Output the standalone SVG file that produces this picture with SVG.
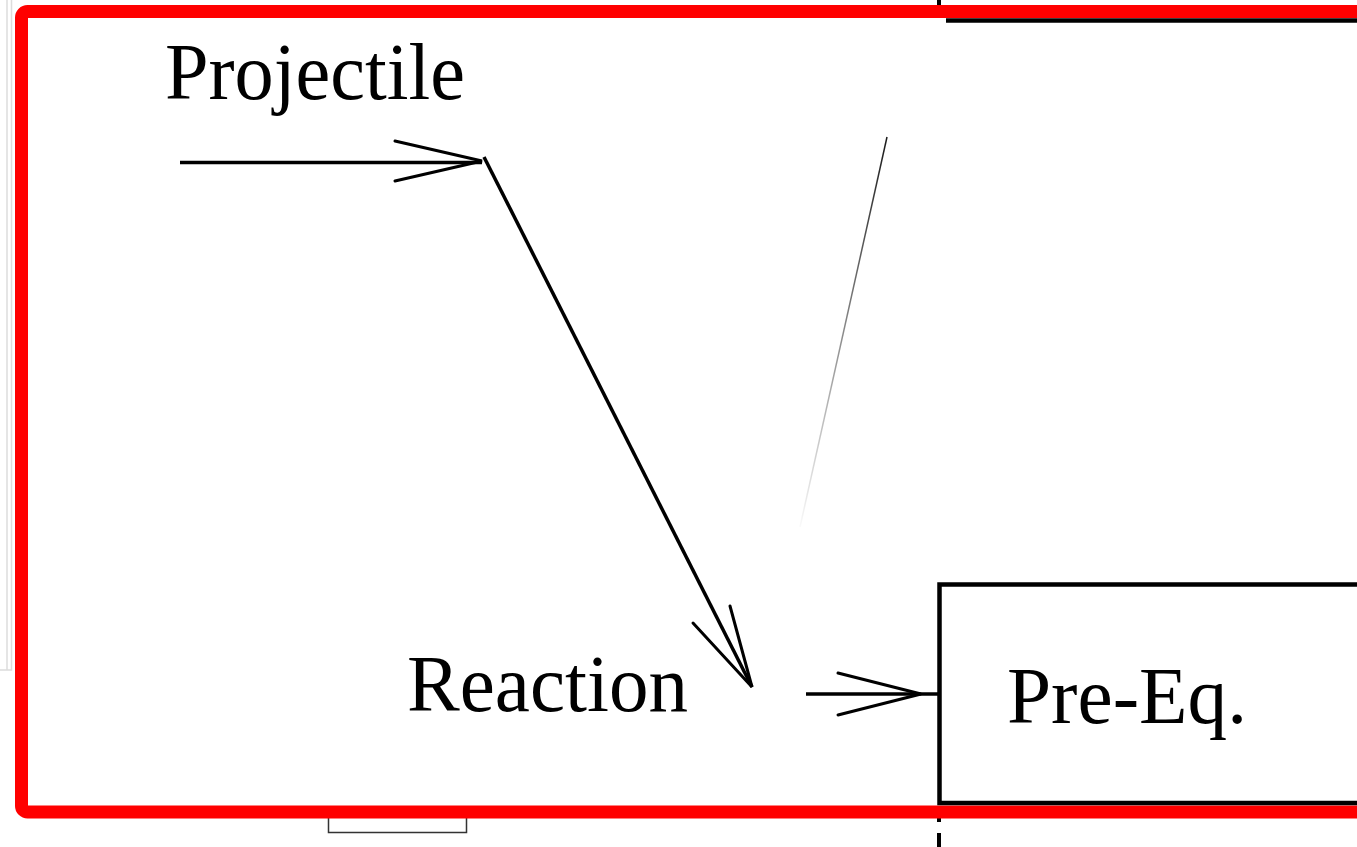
<svg xmlns="http://www.w3.org/2000/svg" width="1357" height="847" viewBox="0 0 1357 847">
  <defs>
    <style>
      .lbl { font-family: "Liberation Serif", "Times New Roman", serif; font-size: 80px; fill: #000; }
      .wire { fill: none; stroke: #000; stroke-width: 3.5; }
      .barb { fill: none; stroke: #000; stroke-width: 3; stroke-linecap: round; stroke-linejoin: miter; }
    </style>
    <linearGradient id="fade" gradientUnits="userSpaceOnUse" x1="887" y1="137" x2="800" y2="527">
      <stop offset="0" stop-color="#000" stop-opacity="0.9"/>
      <stop offset="1" stop-color="#000" stop-opacity="0.02"/>
    </linearGradient>
  </defs>

  <rect width="1357" height="847" fill="#fff"/>

  <!-- faint panel edge at the far left -->
  <g id="panel-edge" fill="none" stroke="#dcdcdc" stroke-width="1.5">
    <path d="M7 0 V670"/>
    <path d="M11.5 0 V670 H0"/>
  </g>

  <!-- dashed divider -->
  <g id="divider" stroke="#000" stroke-width="4">
    <path d="M939 0 V6"/>
    <path d="M939 816 V822 M939 833 V847"/>
  </g>

  <!-- box partially hidden below the frame -->
  <g id="lower-box">
    <path d="M328.5 817 V832.5 H466.5 V817" fill="none" stroke="#333" stroke-width="1.5"/>
  </g>

  <!-- outer red frame -->
  <g id="frame">
    <rect x="21.5" y="11.5" width="1360" height="800.5" rx="6" fill="none" stroke="#ff0000" stroke-width="13"/>
  </g>

  <!-- box strip at top right -->
  <g id="top-box">
    <path d="M946 20.5 H1357" stroke="#000" stroke-width="4.5"/>
  </g>

  <g id="projectile">
    <text class="lbl" x="165" y="99" textLength="300" lengthAdjust="spacingAndGlyphs">Projectile</text>
  </g>

  <g id="reaction">
    <text class="lbl" x="407" y="711" textLength="281" lengthAdjust="spacingAndGlyphs">Reaction</text>
  </g>

  <g id="pre-eq">
    <rect x="939.5" y="584.5" width="430" height="218.5" fill="none" stroke="#000" stroke-width="4.5"/>
    <text class="lbl" x="1007" y="723" textLength="240" lengthAdjust="spacingAndGlyphs">Pre-Eq.</text>
  </g>

  <g id="connectors">
    <!-- projectile beam -->
    <path class="wire" d="M180 162.5 H482"/>
    <path class="barb" d="M395 141 L482 161 L395 181"/>
    <!-- beam to reaction -->
    <path class="wire" d="M484 157 L752 687"/>
    <path class="barb" d="M693 623 L752 687 L730 606"/>
    <!-- reaction to pre-equilibrium -->
    <path class="wire" d="M806 694 H938"/>
    <path class="barb" d="M838 673 L921 694 L838 715"/>
    <!-- faint fading link -->
    <path d="M887 137 L800 527" fill="none" stroke="url(#fade)" stroke-width="1.5"/>
  </g>
</svg>
